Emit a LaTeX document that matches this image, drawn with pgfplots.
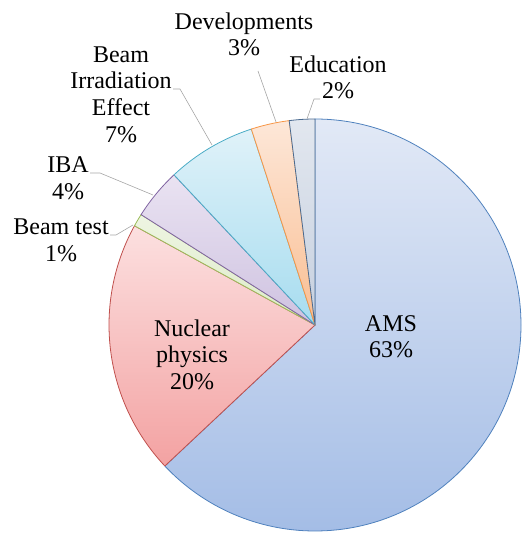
\documentclass[border=0pt]{standalone}
\usepackage{pgfplots}
\pgfplotsset{compat=1.18}
\usepackage{fontspec}
\setmainfont{Liberation Serif}
\definecolor{amsT}{HTML}{E2E9F6}\definecolor{amsB}{HTML}{A4BDE6}\definecolor{amsE}{HTML}{4F81BD}
\definecolor{nucT}{HTML}{FCE0E0}\definecolor{nucB}{HTML}{F3A2A2}\definecolor{nucE}{HTML}{C0504D}
\definecolor{btT}{HTML}{EEF5E2}\definecolor{btB}{HTML}{DDEBC8}\definecolor{btE}{HTML}{9BBB59}
\definecolor{ibaT}{HTML}{EAE3F2}\definecolor{ibaB}{HTML}{CEC2E0}\definecolor{ibaE}{HTML}{8064A2}
\definecolor{bieT}{HTML}{E0F2F9}\definecolor{bieB}{HTML}{A6DCEF}\definecolor{bieE}{HTML}{4BACC6}
\definecolor{devT}{HTML}{FDE7D8}\definecolor{devB}{HTML}{F9BE92}\definecolor{devE}{HTML}{F79646}
\definecolor{eduT}{HTML}{E2E7EF}\definecolor{eduB}{HTML}{C6D0DF}\definecolor{eduE}{HTML}{4A6A90}
\definecolor{lead}{HTML}{A6A6A6}
% \slice{cumulative start %}{value %}{top}{bottom}{edge}
\newcommand\slice[5]{%
  \path[top color=#3,bottom color=#4,draw=#5,line width=0.8pt,line join=round]
    (axis cs:315,209) -- ([shift={({90-3.6*#1}:206bp)}]axis cs:315,209)
    arc[start angle={90-3.6*#1}, end angle={90-3.6*(#1+#2)}, radius=206bp] -- cycle;}
\newcommand\lab[3]{\node[anchor=base,inner sep=0pt] at (axis cs:#1,{534-#2}) {#3};}
\begin{document}
\fontsize{24bp}{27bp}\selectfont
\begin{tikzpicture}
\begin{axis}[scale only axis, width=521bp, height=534bp,
  xmin=0, xmax=521, ymin=0, ymax=534, hide axis, clip=false]
\path (axis cs:0,0) rectangle (axis cs:521,534);
\slice{0}{63}{amsT}{amsB}{amsE}
\slice{63}{20}{nucT}{nucB}{nucE}
\slice{83}{1}{btT}{btB}{btE}
\slice{84}{4}{ibaT}{ibaB}{ibaE}
\slice{88}{7}{bieT}{bieB}{bieE}
\slice{95}{3}{devT}{devB}{devE}
\slice{98}{2}{eduT}{eduB}{eduE}
% leader lines
\addplot[lead, line width=0.6pt, no marks] coordinates {(110,299) (116,299) (133,309)};
\addplot[lead, line width=0.6pt, no marks] coordinates {(90,361) (100,361) (153,339)};
\addplot[lead, line width=0.6pt, no marks] coordinates {(173,445) (180,445) (212,389)};
\addplot[lead, line width=0.6pt, no marks] coordinates {(258,463) (276,412)};
\addplot[lead, line width=0.6pt, no marks] coordinates {(320,435) (314,435) (307,415)};
% labels
\lab{244}{30}{Developments}
\lab{244}{56}{3\%}
\lab{121}{63}{Beam}
\lab{121}{89}{Irradiation}
\lab{121}{116}{Effect}
\lab{121}{143}{7\%}
\lab{338}{73}{Education}
\lab{338}{99}{2\%}
\lab{68}{173}{IBA}
\lab{68}{200}{4\%}
\lab{61}{235}{Beam test}
\lab{61}{262}{1\%}
\lab{391}{332}{AMS}
\lab{391}{358}{63\%}
\lab{192}{337}{Nuclear}
\lab{192}{363}{physics}
\lab{192}{390}{20\%}
\end{axis}
\end{tikzpicture}
\end{document}
